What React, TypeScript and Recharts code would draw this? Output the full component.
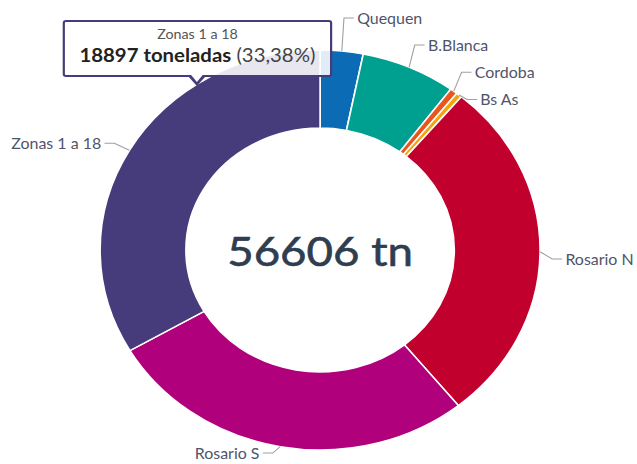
import React from 'react';
import { PieChart, Pie, Cell, Tooltip, Label } from 'recharts';

const names = ['Quequen', 'B.Blanca', 'Cordoba', 'Bs As', 'Rosario N', 'Rosario S', 'Zonas 1 a 18'];
const tonnes = [1780, 3950, 310, 240, 15900, 15529, 18897];
const colors = ['#0b6bb4', '#00a091', '#e8561e', '#f5a30c', '#c1002d', '#b0007b', '#473c7b'];
const unit = 'tn';
const tooltipUnit = 'toneladas';

const data = names.map((name, i) => ({ name, value: tonnes[i], color: colors[i] }));
const total = tonnes.reduce((a, b) => a + b, 0);

const SX = 1.1;
const W = 579;
const H = 464;
const CX = 291;
const CY = 250;
const R = 200;
const IR = 122;
const FONT = 'Lato, "Open Sans", sans-serif';

// Highcharts-like label layout: natural y from mid angle, then overlap distribution per side
function computeLayout() {
  let acc = 0;
  const items = tonnes.map((v, i) => {
    const a0 = (acc / total) * 360;
    acc += v;
    const a1 = (acc / total) * 360;
    const mid = ((a0 + a1) / 2) * Math.PI / 180;
    const s = Math.sin(mid);
    const c = Math.cos(mid);
    return { i, s, side: s >= 0 ? 1 : -1, natural: CY - 228 * c + 7, y: 0, textX: CX + 210 * s + (s >= 0 ? 13 : -17) };
  });
  const spacing = 27.2;
  const minY = 16;
  const maxY = 453;
  [1, -1].forEach((side) => {
    const list = items.filter((it) => it.side === side).sort((a, b) => a.natural - b.natural);
    let groups = list.map((it) => ({ members: [it], top: it.natural }));
    const place = (g: any) => {
      const n = g.members.length;
      const mean = g.members.reduce((a: number, m: any) => a + m.natural, 0) / n;
      let top = mean - ((n - 1) * spacing) / 2;
      top = Math.max(minY, Math.min(maxY - (n - 1) * spacing, top));
      g.top = top;
    };
    groups.forEach(place);
    let merged = true;
    while (merged) {
      merged = false;
      for (let k = 0; k < groups.length - 1; k++) {
        const g = groups[k];
        const h = groups[k + 1];
        if (g.top + g.members.length * spacing > h.top) {
          const ng = { members: [...g.members, ...h.members], top: 0 };
          place(ng);
          groups = [...groups.slice(0, k), ng, ...groups.slice(k + 2)];
          merged = true;
          break;
        }
      }
    }
    groups.forEach((g) => g.members.forEach((m: any, j: number) => { m.y = g.top + j * spacing; }));
  });
  const out: any[] = [];
  items.forEach((it) => { out[it.i] = it; });
  return out;
}

const layout = computeLayout();
const RAD = Math.PI / 180;

const renderLabel = (props: any) => {
  const { cx, cy, midAngle, outerRadius, index } = props;
  const lay = layout[index];
  const ex = cx + outerRadius * Math.cos(-midAngle * RAD);
  const ey = cy + outerRadius * Math.sin(-midAngle * RAD);
  const side = lay.side;
  const bx = lay.textX - 12 * side;
  const tx = lay.textX;
  return (
    <g key={`lbl-${index}`}>
      <path
        d={`M${ex},${ey} L${bx},${lay.y} L${tx - 3 * side},${lay.y}`}
        stroke="#a0a0a0"
        strokeWidth={1}
        fill="none"
      />
      <text
        x={tx}
        y={lay.y}
        textAnchor={side > 0 ? 'start' : 'end'}
        dominantBaseline="central"
        fontFamily={FONT}
        fontSize={14.5}
        fill="#50546a"
      >
        {names[index]}
      </text>
    </g>
  );
};

const TipContent = (props: any) => {
  const { payload } = props;
  if (!payload || !payload.length) return null;
  const p = payload[0];
  const idx = names.indexOf(p.name);
  const pct = ((p.value / total) * 100).toFixed(2).replace('.', ',');
  const col = colors[idx >= 0 ? idx : 0];
  return (
    <div style={{ position: 'relative', width: 245, height: 57, fontFamily: FONT }}>
      <div
        style={{
          boxSizing: 'border-box',
          width: 245,
          height: 57,
          border: `2px solid ${col}`,
          borderRadius: 3,
          background: 'rgba(255,255,255,0.88)',
          textAlign: 'center',
          paddingTop: 4,
        }}
      >
        <div style={{ fontSize: 13, color: '#555', lineHeight: '17px' }}>{p.name}</div>
        <div style={{ fontSize: 18.5, color: '#444', lineHeight: '24px', whiteSpace: 'nowrap' }}>
          <b style={{ color: '#222' }}>{p.value} {tooltipUnit}</b> ({pct}%)
        </div>
      </div>
      <div
        style={{
          position: 'absolute',
          left: 113,
          top: 55,
          width: 0,
          height: 0,
          borderLeft: '9px solid transparent',
          borderRight: '9px solid transparent',
          borderTop: `11px solid ${col}`,
        }}
      />
      <div
        style={{
          position: 'absolute',
          left: 116,
          top: 54,
          width: 0,
          height: 0,
          borderLeft: '6px solid transparent',
          borderRight: '6px solid transparent',
          borderTop: '8px solid #fff',
        }}
      />
    </div>
  );
};

export default function App() {
  return (
    <div
      style={{
        position: 'absolute',
        left: 0,
        top: 0,
        width: W,
        height: H,
        transform: `scaleX(${SX})`,
        transformOrigin: '0 0',
        background: '#fff',
      }}
    >
      <PieChart width={W} height={H} margin={{ top: 0, right: 0, bottom: 0, left: 0 }}>
        <Pie
          data={data}
          dataKey="value"
          nameKey="name"
          cx={CX}
          cy={CY}
          innerRadius={IR}
          outerRadius={R}
          startAngle={90}
          endAngle={-270}
          stroke="#ffffff"
          strokeWidth={1.5}
          label={renderLabel}
          labelLine={false}
          isAnimationActive={false}
        >
          {data.map((d, i) => (
            <Cell key={d.name} fill={d.color} />
          ))}
          <Label
            position="center"
            content={(p: any) => {
              const vb = p.viewBox || {};
              return (
                <text
                  x={vb.cx ?? CX}
                  y={vb.cy ?? CY}
                  textAnchor="middle"
                  dominantBaseline="central"
                  fontFamily={FONT}
                  fontSize={41.5}
                  fill="#2e3d4f"
                  stroke="#2e3d4f"
                  strokeWidth={0.6}
                >
                  {`${total} ${unit}`}
                </text>
              );
            }}
          />
        </Pie>
        <Tooltip
          defaultIndex={6}
          active
          isAnimationActive={false}
          position={{ x: 57, y: 20 }}
          allowEscapeViewBox={{ x: true, y: true }}
          wrapperStyle={{ outline: 'none' }}
          content={<TipContent />}
        />
      </PieChart>
    </div>
  );
}
